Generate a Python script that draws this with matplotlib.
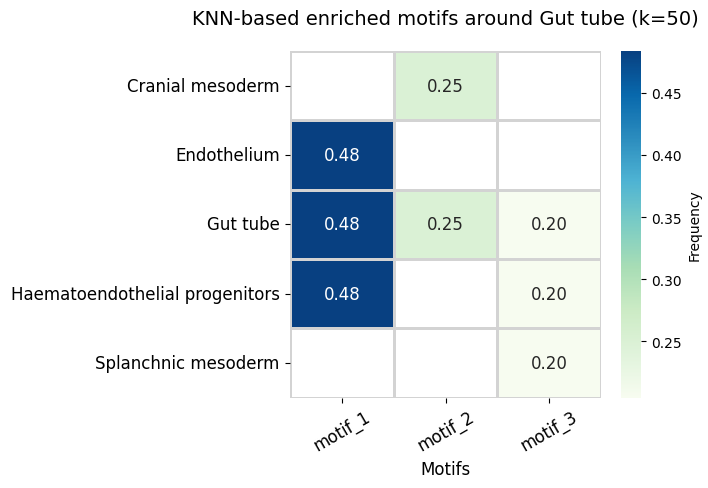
import numpy as np
import pandas as pd
import matplotlib
matplotlib.use("Agg")
import matplotlib.pyplot as plt
import seaborn as sns

cell_types = ["Cranial mesoderm", "Endothelium", "Gut tube",
              "Haematoendothelial progenitors", "Splanchnic mesoderm"]
motifs = ["motif_1", "motif_2", "motif_3"]
motif_1 = [np.nan, 0.4837, 0.4837, 0.4837, np.nan]
motif_2 = [0.2500, np.nan, 0.2500, np.nan, np.nan]
motif_3 = [np.nan, np.nan, 0.2049, 0.2049, 0.2049]

df = pd.DataFrame({"motif_1": motif_1, "motif_2": motif_2, "motif_3": motif_3},
                  index=cell_types)[motifs]

fig = plt.figure(figsize=(7.08, 4.89), dpi=100)
ax = fig.add_axes([0.41, 0.185, 0.439, 0.709])
cax = fig.add_axes([0.877, 0.185, 0.029, 0.709])

sns.heatmap(df, ax=ax, cbar_ax=cax, cmap="GnBu", annot=True, fmt=".2f",
            annot_kws={"size": 12}, linewidths=1, linecolor="lightgray",
            cbar_kws={"label": "Frequency"})

ax.set_title("KNN-based enriched motifs around Gut tube (k=50)", fontsize=14, pad=20)
ax.set_xlabel("Motifs", fontsize=12)
ax.set_ylabel("")
ax.tick_params(axis="x", labelsize=12, rotation=30)
ax.tick_params(axis="y", labelsize=12, rotation=0, pad=4)
cax.tick_params(labelsize=10)

fig.savefig("out.png", dpi=100)
